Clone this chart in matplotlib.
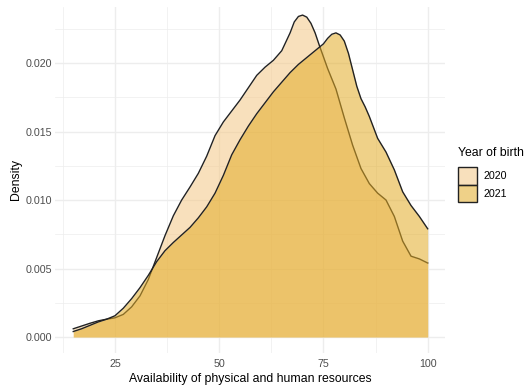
import matplotlib
matplotlib.use("Agg")
import matplotlib.pyplot as plt
from matplotlib.patches import Patch
from matplotlib.colors import to_rgba

plt.rcParams['font.family'] = ['Liberation Sans', 'DejaVu Sans']

# Density curve: year of birth 2020
x_2020 = [15, 17, 19, 21, 23, 25, 27, 29, 31, 33, 35, 37, 39, 41, 43, 45, 47, 49, 51, 53,
          55, 57, 59, 61, 63, 65, 67, 68, 69, 70, 71, 72, 73, 74, 76, 78, 80, 82, 84, 86,
          88, 90, 92, 94, 96, 98, 100]
y_2020 = [0.00060, 0.00080, 0.00100, 0.00118, 0.00130, 0.00140, 0.00165, 0.00220, 0.00300, 0.00420,
          0.00580, 0.00740, 0.00885, 0.01000, 0.01095, 0.01195, 0.01320, 0.01470, 0.01570, 0.01650,
          0.01730, 0.01820, 0.01910, 0.01970, 0.02020, 0.02090, 0.02220, 0.02300, 0.02340, 0.02350,
          0.02335, 0.02290, 0.02220, 0.02130, 0.01960, 0.01810, 0.01600, 0.01400, 0.01230, 0.01120,
          0.01050, 0.01000, 0.00880, 0.00700, 0.00590, 0.00570, 0.00540]

# Density curve: year of birth 2021
x_2021 = [15, 17, 19, 21, 23, 25, 27, 29, 31, 33, 35, 37, 39, 41, 43, 45, 47, 49, 51, 53,
          55, 57, 59, 61, 63, 65, 67, 69, 71, 73, 75, 76, 77, 78, 79, 80, 81, 82, 83, 84,
          85, 86, 88, 90, 92, 94, 96, 98, 100]
y_2021 = [0.00040, 0.00060, 0.00085, 0.00110, 0.00130, 0.00155, 0.00210, 0.00280, 0.00360, 0.00450,
          0.00550, 0.00630, 0.00690, 0.00745, 0.00800, 0.00870, 0.00950, 0.01050, 0.01180, 0.01330,
          0.01440, 0.01540, 0.01630, 0.01710, 0.01790, 0.01860, 0.01930, 0.01990, 0.02040, 0.02090,
          0.02140, 0.02180, 0.02210, 0.02220, 0.02205, 0.02160, 0.02070, 0.01950, 0.01830, 0.01740,
          0.01680, 0.01610, 0.01450, 0.01350, 0.01220, 0.01060, 0.00960, 0.00880, 0.00790]

groups = ['2020', '2021']
legend_title = 'Year of birth'
fill_colors = ['#F4C885', '#E3AC27']
fill_alpha = 0.55
line_color = '#222222'

x_ticks = [25, 50, 75, 100]
y_ticks = [0.000, 0.005, 0.010, 0.015, 0.020]
y_tick_labels = ['0.000', '0.005', '0.010', '0.015', '0.020']

W, H = 527, 386
fig = plt.figure(figsize=(W / 100, H / 100), dpi=100)
ax = fig.add_axes([55 / W, 1 - 353 / H, (445 - 55) / W, (353 - 7) / H])

grid_c = '#EDEDED'
for v in [12.5, 37.5, 62.5, 87.5]:
    ax.axvline(v, color=grid_c, lw=0.5, zorder=0)
for v in [0.0025, 0.0075, 0.0125, 0.0175, 0.0225]:
    ax.axhline(v, color=grid_c, lw=0.5, zorder=0)
for v in x_ticks:
    ax.axvline(v, color=grid_c, lw=1.0, zorder=0)
for v in y_ticks:
    ax.axhline(v, color=grid_c, lw=1.0, zorder=0)

series = [(x_2020, y_2020), (x_2021, y_2021)]
for (xs, ys), fc, z in zip(series, fill_colors, [2, 4]):
    ax.fill_between(xs, 0, ys, color=fc, alpha=fill_alpha, lw=0, zorder=z)
    ax.plot(xs, ys, color=line_color, lw=1.0, zorder=z + 0.5,
            solid_joinstyle='round')

ax.set_xlim(10.62, 104.15)
ax.set_ylim(-0.001168, 0.02409)
ax.set_xticks(x_ticks)
ax.set_xticklabels([str(t) for t in x_ticks])
ax.set_yticks(y_ticks)
ax.set_yticklabels(y_tick_labels)
ax.tick_params(axis='both', length=0, labelsize=7.7, labelcolor='#4D4D4D')
ax.tick_params(axis='y', pad=2)
ax.tick_params(axis='x', pad=4)
for s in ax.spines.values():
    s.set_visible(False)
ax.set_xlabel('Availability of physical and human resources', fontsize=8.8, labelpad=3)
ax.set_ylabel('Density', fontsize=8.8, labelpad=3)

fig.text(458 / W, 1 - 153 / H, legend_title, fontsize=8.8, ha='left', va='center')
handles = [Patch(facecolor=to_rgba(fc, fill_alpha), edgecolor=line_color, lw=1.0)
           for fc in fill_colors]
leg = fig.legend(handles, groups, loc='upper left',
                 bbox_to_anchor=(454 / W, 1 - 163 / H), frameon=False,
                 fontsize=7.7, handlelength=1.75, handleheight=2.15,
                 labelspacing=0.0, handletextpad=0.65, borderaxespad=0)

fig.savefig('out.png', dpi=100)
